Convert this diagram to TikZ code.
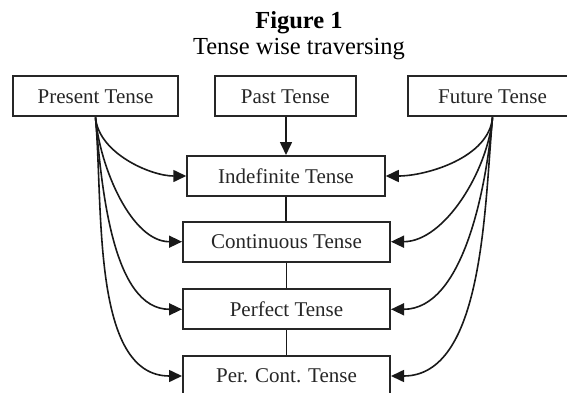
\documentclass[tikz,border=0pt]{standalone}
\usepackage{fontspec}
\setmainfont{Liberation Serif}
\usetikzlibrary{arrows.meta}
\tikzset{
  tensebox/.style={draw=black!85, line width=2pt, minimum height=40pt, inner sep=0pt,
    font=\fontsize{21}{25}\selectfont, text=black!85},
  link/.style={draw=black!90, line width=1.6pt},
  arr/.style={link, -{Triangle[length=13pt,width=12pt]}},
  swing/.style={looseness=0.85}
}
\begin{document}
\begin{tikzpicture}[x=1pt,y=-1pt]
  \useasboundingbox (0,0) rectangle (567,393);
  \clip (0,0) rectangle (567,393);
  \node[anchor=base, font=\fontsize{24.5}{28}\selectfont\bfseries] (fig) at (299,28.5) {Figure 1};
  \node[anchor=base, font=\fontsize{24.5}{28}\selectfont] (cap) at (299,55) {Tense wise traversing};
  \node[tensebox, minimum width=165.6pt] (present) at (95.5,96.5) {Present Tense};
  \node[tensebox, minimum width=140.7pt] (past) at (285.3,96.5) {Past Tense};
  \node[tensebox, minimum width=170pt] (future) at (492.5,96.5) {Future Tense};
  \node[tensebox, minimum width=197.5pt] (indef) at (286,176) {Indefinite Tense};
  \node[tensebox, minimum width=207pt] (cont) at (286.5,241.7) {Continuous Tense};
  \node[tensebox, minimum width=207pt] (perf) at (286.5,309.3) {Perfect Tense};
  \node[tensebox, minimum width=207pt] (percont) at (286.5,376) {Per. Cont. Tense};
  \draw[arr] (past.south -| indef.north) -- (indef.north);
  \draw[link] (indef.south) -- (indef.south |- cont.north);
  \draw[link] (cont.south -| perf.north) -- (perf.north);
  \draw[link] (perf.south) -- (percont.north);
  \draw[arr] (present.south) to[out=-85,in=180,swing] (indef.west);
  \draw[arr] (present.south) to[out=-85,in=180,swing] (cont.west);
  \draw[arr] (present.south) to[out=-85,in=180,swing] (perf.west);
  \draw[arr] (present.south) to[out=-85,in=180,swing] (percont.west);
  \draw[arr] (future.south) to[out=-95,in=0,swing] (indef.east);
  \draw[arr] (future.south) to[out=-95,in=0,swing] (cont.east);
  \draw[arr] (future.south) to[out=-95,in=0,swing] (perf.east);
  \draw[arr] (future.south) to[out=-95,in=0,swing] (percont.east);
\end{tikzpicture}
\end{document}
